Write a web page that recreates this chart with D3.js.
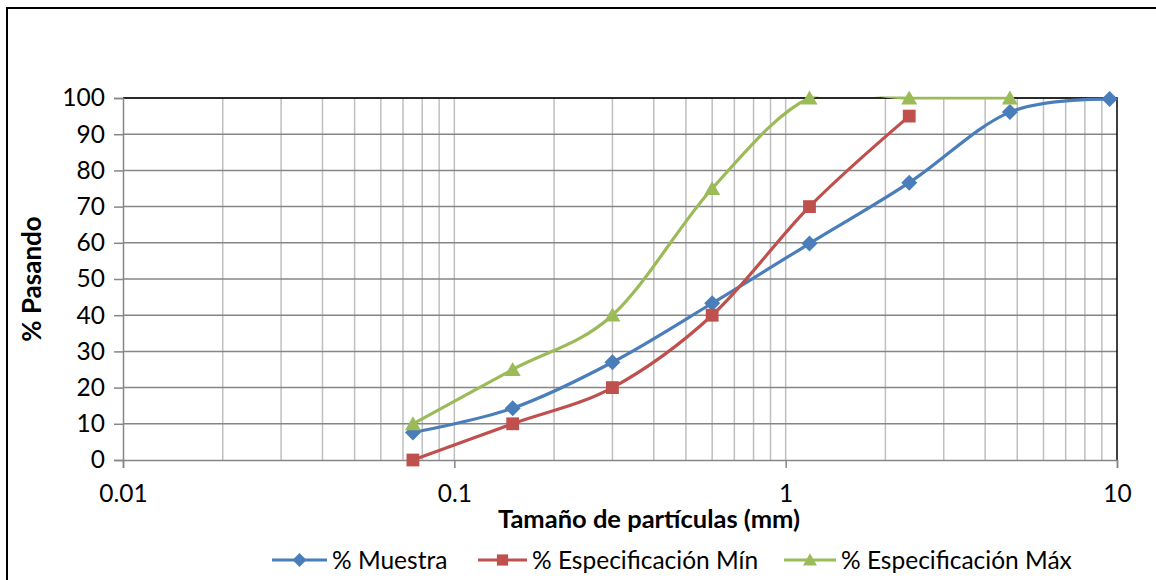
<!DOCTYPE html>
<html>
<head>
<meta charset="utf-8">
<script src="https://cdn.jsdelivr.net/npm/d3@7"></script>
<style>
  html, body { margin: 0; padding: 0; background: #fff; }
  svg { display: block; }
  text { font-family: Lato, "Open Sans", sans-serif; fill: #000; }
</style>
</head>
<body>
<svg id="chart" width="1156" height="580"></svg>
<script>
// ---- data ----
const sizes = [0.075, 0.15, 0.3, 0.6, 1.18, 2.36, 4.75, 9.5];
const muestra = [7.6, 14.3, 27.0, 43.3, 59.8, 76.6, 96.1, 99.7];
const espMin = [0, 10, 20, 40, 70, 95];
const espMax = [10, 25, 40, 75, 100, 100, 100];
const xTickValues = [0.01, 0.1, 1, 10];
const xTickLabels = ["0.01", "0.1", "1", "10"];
const yTickValues = [0, 10, 20, 30, 40, 50, 60, 70, 80, 90, 100];
const seriesNames = ["% Muestra", "% Especificación Mín", "% Especificación Máx"];
const seriesColors = ["#4A7EBB", "#C0504D", "#9BBB59"];
const xTitle = "Tamaño de partículas (mm)";
const yTitle = "% Pasando";

// ---- layout ----
const svg = d3.select("#chart");
const L = 123, R = 1117, T = 98, B = 460;
const x = d3.scaleLog().domain([0.01, 10]).range([L, R]);
const y = d3.scaleLinear().domain([0, 100]).range([B, T]);
const FS = 24.5;

// outer frame (cut off at right/bottom)
svg.append("rect").attr("x", 7).attr("y", 8).attr("width", 1300).attr("height", 700)
  .attr("fill", "none").attr("stroke", "#000").attr("stroke-width", 2);

// minor vertical gridlines
const minor = [];
for (let e = -2; e < 1; e++) for (let m = 1; m <= 9; m++) {
  const v = m * Math.pow(10, e);
  if (v > 0.01 && v < 10) minor.push(v);
}
svg.append("g").selectAll("line").data(minor).join("line")
  .attr("x1", d => x(d)).attr("x2", d => x(d)).attr("y1", T).attr("y2", B)
  .attr("stroke", "#BFBFBF").attr("stroke-width", 1.5);

// horizontal gridlines
svg.append("g").selectAll("line").data(yTickValues.filter(v => v > 0)).join("line")
  .attr("x1", L).attr("x2", R).attr("y1", d => y(d)).attr("y2", d => y(d))
  .attr("stroke", "#868686").attr("stroke-width", 1.5);

// top & right border of plot
svg.append("path").attr("d", `M${L},${T}H${R}V${B}`).attr("fill", "none")
  .attr("stroke", "#000").attr("stroke-width", 1.5);

// y axis
const yAxis = d3.axisLeft(y).tickValues(yTickValues).tickSize(9).tickPadding(8)
  .tickFormat(d3.format("d"));
const gy = svg.append("g").attr("transform", `translate(${L},0)`).call(yAxis);
gy.select(".domain").attr("stroke", "#868686").attr("stroke-width", 1.5);
gy.selectAll(".tick line").attr("stroke", "#868686").attr("stroke-width", 1.5);
gy.selectAll(".tick text").attr("font-size", FS).attr("font-family", "Lato").attr("dx", -1);

// x axis
const xAxis = d3.axisBottom(x).tickValues(xTickValues).tickSize(8).tickPadding(17)
  .tickFormat((d, i) => xTickLabels[i]);
const gx = svg.append("g").attr("transform", `translate(0,${B})`).call(xAxis);
gx.select(".domain").attr("stroke", "#868686").attr("stroke-width", 1.5);
gx.selectAll(".tick line").attr("stroke", "#868686").attr("stroke-width", 1.5);
gx.selectAll(".tick text").attr("font-size", FS).attr("font-family", "Lato");

// axis titles
svg.append("text").attr("x", 649).attr("y", 528).attr("text-anchor", "middle")
  .attr("font-size", 25.5).attr("font-weight", "bold").text(xTitle);
svg.append("text").attr("transform", "translate(41,279) rotate(-90)")
  .attr("text-anchor", "middle").attr("font-size", 26).attr("font-weight", "bold").text(yTitle);

// clip
svg.append("defs").append("clipPath").attr("id", "clip")
  .append("rect").attr("x", L).attr("y", T - 1.5).attr("width", R - L).attr("height", B - T + 3);

const line = d3.line().x(d => x(d[0])).y(d => y(d[1])).curve(d3.curveCardinal.tension(0));
const datasets = [
  sizes.map((s, i) => [s, muestra[i]]),
  espMin.map((v, i) => [sizes[i], v]),
  espMax.map((v, i) => [sizes[i], v])
];

const gLines = svg.append("g").attr("clip-path", "url(#clip)");
datasets.forEach((ds, k) => {
  gLines.append("path").datum(ds).attr("d", line).attr("fill", "none")
    .attr("stroke", seriesColors[k]).attr("stroke-width", 3.2);
});

function marker(g, k, cx, cy, s) {
  if (k === 0) {
    g.append("path").attr("d", `M${cx},${cy - s}L${cx + s},${cy}L${cx},${cy + s}L${cx - s},${cy}Z`)
      .attr("fill", seriesColors[k]);
  } else if (k === 1) {
    g.append("rect").attr("x", cx - s * 0.8).attr("y", cy - s * 0.8)
      .attr("width", s * 1.6).attr("height", s * 1.6).attr("fill", seriesColors[k]);
  } else {
    g.append("path").attr("d", `M${cx},${cy - s * 0.95}L${cx + s},${cy + s * 0.8}L${cx - s},${cy + s * 0.8}Z`)
      .attr("fill", seriesColors[k]);
  }
}
const gMarks = svg.append("g");
datasets.forEach((ds, k) => {
  ds.forEach(d => marker(gMarks, k, x(d[0]), y(d[1]), 8));
});

// legend
const legendItems = [
  { lx: 272, tx: 332 },
  { lx: 478, tx: 532 },
  { lx: 784, tx: 841 }
];
const ly = 560;
const gLeg = svg.append("g");
legendItems.forEach((it, k) => {
  const w = it.tx - it.lx - 5;
  gLeg.append("line").attr("x1", it.lx).attr("x2", it.lx + w).attr("y1", ly).attr("y2", ly)
    .attr("stroke", seriesColors[k]).attr("stroke-width", 3.2);
  marker(gLeg, k, it.lx + w / 2, ly, 7);
  gLeg.append("text").attr("x", it.tx).attr("y", ly + 8.5).attr("font-size", FS)
    .text(seriesNames[k]);
});
</script>
</body>
</html>
